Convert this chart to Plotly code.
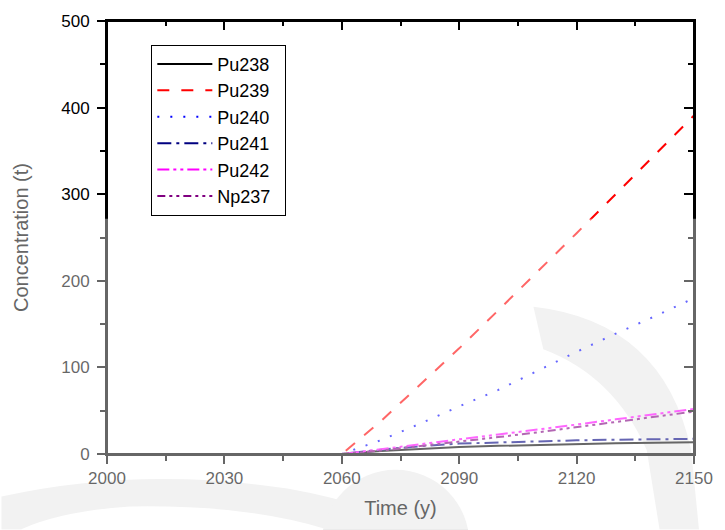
import plotly.graph_objects as go

# ---------------- data ----------------
years = [2000, 2010, 2020, 2030, 2040, 2050, 2060, 2070, 2080, 2090,
         2100, 2110, 2120, 2130, 2140, 2150]
zeros = [0, 0, 0, 0, 0, 0, 0]
pu238 = zeros + [3.5, 6.0, 8.0, 9.4, 10.6, 11.6, 12.4, 13.0, 13.5]
pu239 = zeros + [38, 80, 122, 166, 210, 255, 300, 345, 391]
pu240 = zeros + [16, 35, 55, 74, 96, 118, 139, 159, 180]
pu241 = zeros + [5.0, 9.0, 12.0, 13.5, 14.8, 15.8, 16.5, 17.0, 17.5]
pu242 = zeros + [5.5, 11.5, 17.0, 22.5, 28.0, 34.0, 40.0, 46.0, 52.0]
np237 = zeros + [4.0, 9.0, 14.0, 19.5, 25.0, 31.0, 37.0, 43.0, 49.0]

names = ["Pu238", "Pu239", "Pu240", "Pu241", "Pu242", "Np237"]
series = [pu238, pu239, pu240, pu241, pu242, np237]
colors = ["#000000", "#ff0000", "#0000ff", "#000080", "#ff00ff", "#800080"]
dashes = ["solid", "12px,12px", "2px,11px", "14px,5px,3px,5px",
          "12px,4px,3px,4px,3px,4px", "8px,4px,3px,4px,3px,4px"]

xticks = [2000, 2030, 2060, 2090, 2120, 2150]
yticks = [0, 100, 200, 300, 400, 500]

FONT = "Liberation Sans, Arial, sans-serif"

# ---------------- layout geometry (pixels) ----------------
W, H = 725, 530
L, R, T, B = 107, 703, 16, 454


def px(x, y):
    return (x - L) / (R - L), (B - y) / (B - T)


def path(cmds):
    out = []
    for c in cmds:
        if isinstance(c, str):
            out.append(c)
        else:
            xx, yy = px(*c)
            out.append(f"{xx:.4f},{yy:.4f}")
    return " ".join(out)


fig = go.Figure()
for n, s, c, d in zip(names, series, colors, dashes):
    fig.add_trace(go.Scatter(x=years, y=s, name=n + "\u2002", mode="lines",
                             line=dict(color=c, width=2, dash=d)))
# invisible companion trace so the top/right tick axes get drawn
fig.add_trace(go.Scatter(x=years, y=pu238, xaxis="x2", yaxis="y2", mode="lines",
                         line=dict(width=0), opacity=0, showlegend=False,
                         hoverinfo="skip"))

shapes = []
wm = "#e9e9e9"
# watermark: bottom-left band
shapes.append(dict(type="path", xref="paper", yref="paper", layer="below",
                   fillcolor=wm, line=dict(width=0),
                   path=path(["M", (0, 497), "Q", (140, 466), (290, 489),
                              "Q", (370, 503), (420, 530), "L", (330, 530),
                              "Q", (250, 505), (130, 507), "Q", (60, 512), (20, 530),
                              "L", (0, 530), "Z"])))
# watermark: blob behind x title
x0, y0 = px(325, 620)
x1, y1 = px(475, 470)
shapes.append(dict(type="circle", xref="paper", yref="paper", layer="below",
                   fillcolor=wm, line=dict(width=0), x0=x0, y0=y0, x1=x1, y1=y1))
# watermark: right arc
shapes.append(dict(type="path", xref="paper", yref="paper", layer="below",
                   fillcolor=wm, line=dict(width=0),
                   path=path(["M", (540, 305), "Q", (672, 320), (700, 450),
                              "L", (708, 530), "L", (668, 530), "L", (655, 450),
                              "Q", (622, 375), (550, 348), "Z"])))
# plot frame
shapes.append(dict(type="rect", xref="paper", yref="paper", layer="above",
                   fillcolor="rgba(0,0,0,0)", line=dict(color="black", width=2),
                   x0=0, y0=0, x1=1, y1=1))
# fading overlay on lower part
fx0, fy0 = px(0, 530)
fx1, fy1 = px(W, 216)
shapes.append(dict(type="rect", xref="paper", yref="paper", layer="above",
                   fillcolor="rgba(255,255,255,0.4)", line=dict(width=0),
                   x0=fx0, y0=fy0, x1=fx1, y1=fy1))

axis_common = dict(showline=True, linecolor="black", linewidth=2,
                   showgrid=False, zeroline=False, tickcolor="black",
                   tickwidth=1.5)

fig.update_layout(
    width=W, height=H,
    margin=dict(l=L, r=W - R, t=T, b=H - B),
    paper_bgcolor="white", plot_bgcolor="rgba(0,0,0,0)",
    font=dict(family=FONT, size=17, color="black"),
    shapes=shapes,
    showlegend=True,
    legend=dict(x=px(152, 40)[0], y=px(152, 40)[1], xanchor="left", yanchor="top",
                bgcolor="white", bordercolor="black", borderwidth=1,
                font=dict(family=FONT, size=18, color="black"),
                tracegroupgap=0, itemwidth=55),
    xaxis=dict(range=[2000, 2150], tickvals=xticks, ticks="outside", ticklen=8,
               minor=dict(dtick=15, tick0=2000, ticks="outside", ticklen=5,
                          tickcolor="black", tickwidth=1.5),
               title=dict(text="Time (y)", font=dict(size=20, color="#666666"),
                          standoff=14),
               tickfont=dict(size=17), **axis_common),
    yaxis=dict(range=[0, 500], tickvals=yticks, ticks="outside", ticklen=8,
               minor=dict(dtick=50, tick0=0, ticks="outside", ticklen=5,
                          tickcolor="black", tickwidth=1.5),
               title=dict(text="Concentration (t)",
                          font=dict(size=20, color="#666666"), standoff=27),
               tickfont=dict(size=17), ticklabelstandoff=4, **axis_common),
    xaxis2=dict(overlaying="x", side="top", range=[2000, 2150],
                tickvals=xticks, ticks="inside", ticklen=9, showticklabels=False,
                minor=dict(dtick=15, tick0=2000, ticks="inside", ticklen=5,
                           tickcolor="black", tickwidth=1.5),
                anchor="y2", **axis_common),
    yaxis2=dict(overlaying="y", side="right", range=[0, 500],
                tickvals=yticks, ticks="inside", ticklen=10, showticklabels=False,
                minor=dict(dtick=50, tick0=0, ticks="inside", ticklen=6,
                           tickcolor="black", tickwidth=1.5),
                anchor="x2", **axis_common),
)

fig.write_html("out.html")
